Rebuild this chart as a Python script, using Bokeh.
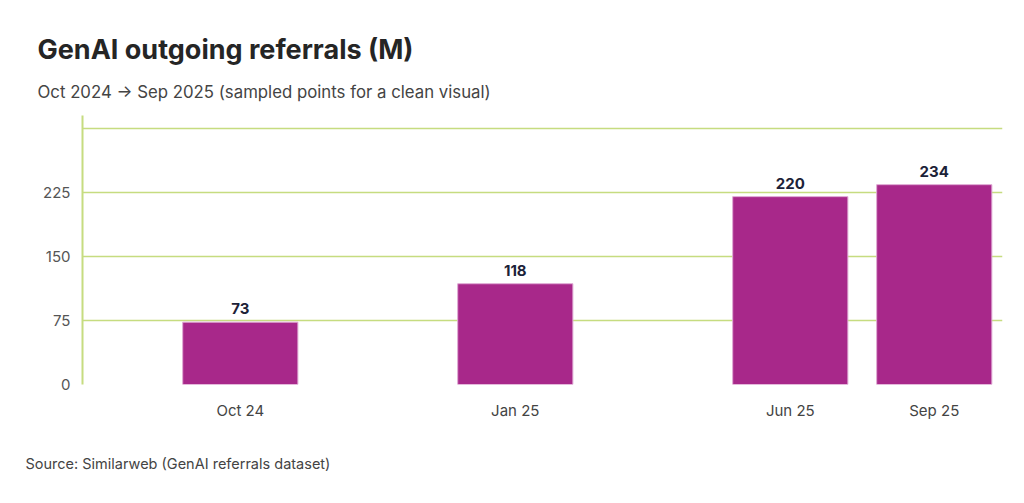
from bokeh.plotting import figure
from bokeh.models import FactorRange, Range1d, FixedTicker, Title, ColumnDataSource
from bokeh.core.properties import value
from bokeh.embed import file_html
from bokeh.resources import INLINE

# ---- data ----
months = ["Oct 24", "Jan 25", "Jun 25", "Sep 25"]
referrals = [73, 118, 220, 234]
y_ticks = [0, 75, 150, 225, 300]

# layout grouping of the sampled months (groups / sub-groups on the category axis)
groups = ["g1", "g2", "g3", "g3"]
subgroups = ["s1", "s2", "s3", "s4"]

FONT = "Inter"
GRID = "#c6dc80"
BAR = "#a8288a"

bar_x = list(zip(groups, subgroups, months))
factors = [("g1", "s1", " ")] + bar_x   # leading blank slot for left spacing

src = ColumnDataSource(dict(x=bar_x, y=referrals, lab=[str(v) for v in referrals]))

p = figure(
    width=1024, height=503,
    x_range=FactorRange(*factors, factor_padding=-0.378, subgroup_padding=0.0,
                        group_padding=0.91, range_padding=-0.026,
                        range_padding_units="absolute"),
    y_range=Range1d(0, 315),
    output_backend="svg", toolbar_location=None,
    min_border_left=82, min_border_right=22, min_border_top=115, min_border_bottom=119,
    background_fill_color="white", border_fill_color="white",
    outline_line_color=None,
)

p.vbar(x="x", top="y", width=0.8, source=src, fill_color=BAR,
       line_color="#dfa9d4", line_width=1)
p.text(x="x", y="y", text="lab", source=src, text_align="center",
       text_baseline="bottom", y_offset=-8, text_font=value(FONT),
       text_font_style="bold", text_font_size="15px", text_color="#1c2238")

# title / subtitle
sub = Title(text="Oct 2024 \u2192 Sep 2025 (sampled points for a clean visual)",
            text_font=FONT, text_font_size="16.8px", text_font_style="normal",
            text_color="#444444", align="left", offset=-45, standoff=27)
p.add_layout(sub, "above")
p.title.text = "GenAI outgoing referrals (M)"
p.title.text_font = FONT
p.title.text_font_size = "27px"
p.title.text_font_style = "bold"
p.title.text_color = "#252525"
p.title.align = "left"
p.title.offset = -45
p.title.standoff = 2

src_title = Title(text="Source: Similarweb (GenAI referrals dataset)",
                  text_font=FONT, text_font_size="14.5px", text_font_style="normal",
                  text_color="#444444", align="left", offset=-57, standoff=61)
p.add_layout(src_title, "below")

# axes
p.yaxis.ticker = FixedTicker(ticks=y_ticks)
p.yaxis.major_label_overrides = {300: ""}
p.yaxis.axis_line_color = GRID
p.yaxis.axis_line_width = 2
p.yaxis.major_tick_line_color = None
p.yaxis.major_tick_out = 0
p.yaxis.minor_tick_line_color = None
p.yaxis.major_label_text_font = FONT
p.yaxis.major_label_text_font_size = "15px"
p.yaxis.major_label_text_color = "#555555"
p.yaxis.major_label_text_align = "right"
p.yaxis.major_label_standoff = 12

p.xaxis.axis_line_color = None
p.xaxis.major_tick_line_color = None
p.xaxis.major_tick_out = 0
p.xaxis.minor_tick_line_color = None
p.xaxis.major_label_text_font = FONT
p.xaxis.major_label_text_font_size = "15px"
p.xaxis.major_label_text_color = "#444444"
p.xaxis.major_label_standoff = 16
p.xaxis.group_text_color = None
p.xaxis.group_text_font_size = "2px"
p.xaxis.subgroup_text_color = None
p.xaxis.subgroup_text_font_size = "2px"
p.xaxis.separator_line_color = None

p.xgrid.grid_line_color = None
p.ygrid.grid_line_color = GRID
p.ygrid.grid_line_width = 1.5

open("out.html", "w").write(file_html(p, INLINE))
